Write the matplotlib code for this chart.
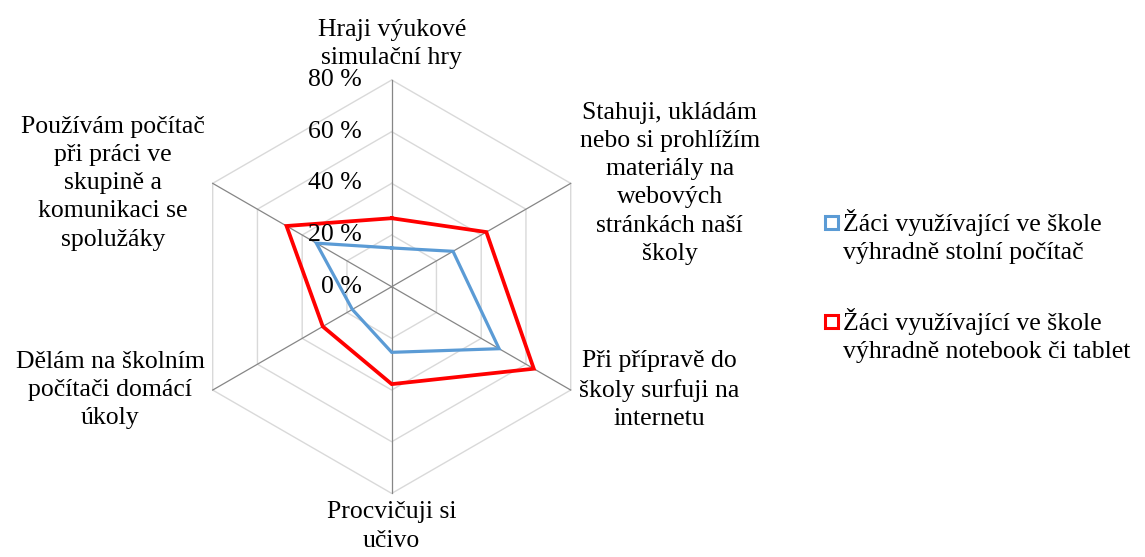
import numpy as np
import matplotlib
matplotlib.use("Agg")
import matplotlib.pyplot as plt
from matplotlib.patches import Rectangle

categories = [
    "Hraji výukové\nsimulační hry",
    "Stahuji, ukládám\nnebo si prohlížím\nmateriály na\nwebových\nstránkách naší\nškoly",
    "Při přípravě do\nškoly surfuji na\ninternetu",
    "Procvičuji si\nučivo",
    "Dělám na školním\npočítači domácí\núkoly",
    "Používám počítač\npři práci ve\nskupině a\nkomunikaci se\nspolužáky",
]
series_names = [
    "Žáci využívající ve škole\nvýhradně stolní počítač",
    "Žáci využívající ve škole\nvýhradně notebook či tablet",
]
desktop = [15, 27.4, 48, 25.4, 17.6, 33.7]
notebook = [26.5, 42.3, 63.5, 37.7, 30.8, 47]
ring_values = [0, 20, 40, 60, 80]
ring_labels = ["0 %", "20 %", "40 %", "60 %", "80 %"]

colors = ["#5B9BD5", "#FF0000"]
widths = [2.3, 2.7]
FONT = "Liberation Serif"
FS = 18.5
LS = 1.36
plt.rcParams["font.family"] = [FONT, "DejaVu Sans"]

W, H, DPI = 1145, 557, 100
fig = plt.figure(figsize=(W / DPI, H / DPI), dpi=DPI)
cx, cy, R = 391.7, 557 - 286.7, 206.7
ax = fig.add_axes([(cx - R) / W, (cy - R) / H, 2 * R / W, 2 * R / H], projection="polar")
ax.set_theta_zero_location("N")
ax.set_theta_direction(-1)
ax.set_ylim(0, ring_values[-1])
ax.grid(False)
ax.set_xticks([])
ax.set_yticks([])
ax.spines["polar"].set_visible(False)
ax.patch.set_visible(False)

n = len(categories)
angles = np.linspace(0, 2 * np.pi, n, endpoint=False)
closed = np.concatenate([angles, angles[:1]])

for r in ring_values[1:]:
    ax.plot(closed, [r] * (n + 1), color="#D9D9D9", lw=1.0, clip_on=False, zorder=1)
for a in angles:
    ax.plot([a, a], [0, ring_values[-1]], color="#868686", lw=0.9, clip_on=False, zorder=1.1)

for vals, c, lw in zip([desktop, notebook], colors, widths):
    v = np.concatenate([vals, vals[:1]])
    ax.plot(closed, v, color=c, lw=lw, clip_on=False, zorder=2, solid_joinstyle="miter")

px = 72 / DPI
for r, lab in zip(ring_values, ring_labels):
    ax.annotate(lab, xy=(0, r), xytext=(-30 * px, 0), textcoords="offset points",
                ha="right", va="center", fontsize=FS, annotation_clip=False, zorder=3)

label_cfg = [
    dict(xytext=(0, 11 * px), ha="center", va="bottom"),
    dict(xytext=(9 * px, 0), ha="left", va="center"),
    dict(xytext=(8 * px, 0), ha="left", va="center"),
    dict(xytext=(0, -8 * px), ha="center", va="top"),
    dict(xytext=(-8 * px, 0), ha="right", va="center"),
    dict(xytext=(-8 * px, 0), ha="right", va="center"),
]
for a, lab, cfg in zip(angles, categories, label_cfg):
    ax.annotate(lab, xy=(a, ring_values[-1]), textcoords="offset points",
                multialignment="center", fontsize=FS, annotation_clip=False,
                linespacing=LS, **cfg)

# manual legend
leg_base = [229, 328]
line_step = 30
for name, c, yb in zip(series_names, colors, leg_base):
    s = 13
    xc, yc = 831.5, yb - 6.5
    fig.add_artist(Rectangle(((xc - s / 2) / W, 1 - (yc + s / 2) / H), s / W, s / H,
                             transform=fig.transFigure, facecolor="white", edgecolor=c, lw=2.2))
    fig.text(843 / W, 1 - (yb + line_step) / H, name, ha="left", va="baseline", fontsize=FS,
             linespacing=LS)

fig.savefig("out.png", dpi=DPI)
